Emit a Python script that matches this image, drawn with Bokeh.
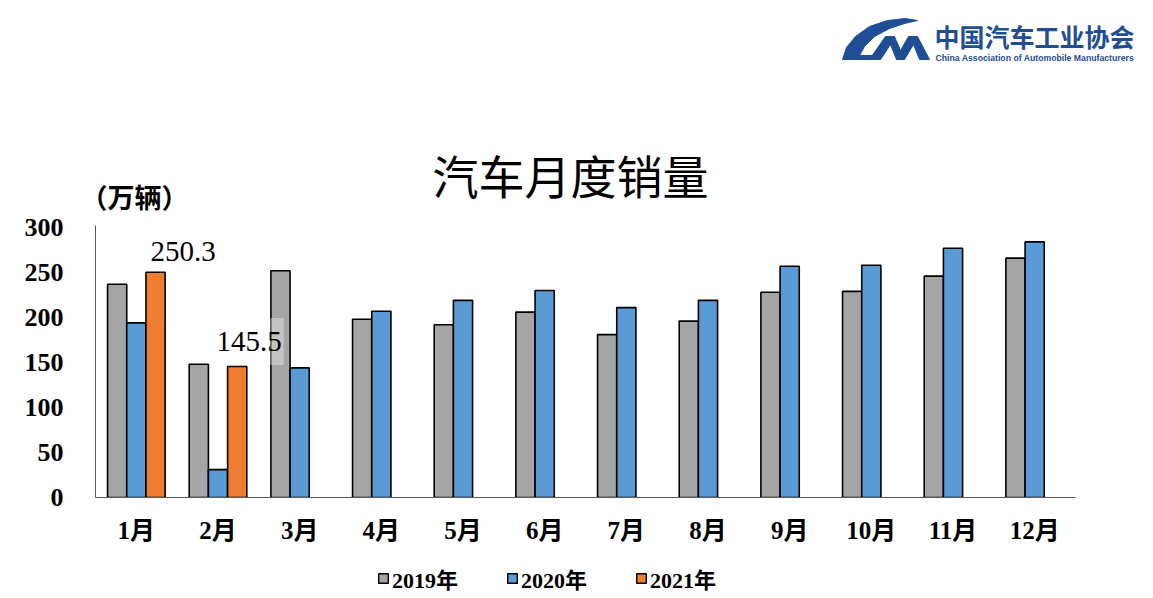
import numpy as np
from bokeh.plotting import figure
from bokeh.models import Range1d, FixedTicker, Label, Legend, LegendItem
from bokeh.layouts import column
from bokeh.embed import file_html
from bokeh.resources import INLINE

# ---- data (万辆) ----
months = ["1月", "2月", "3月", "4月", "5月", "6月", "7月", "8月", "9月", "10月", "11月", "12月"]
sales_2019 = [237, 148, 252, 198, 192, 206, 181, 196, 228, 229, 246, 266]
sales_2020 = [194, 31, 144, 207, 219, 230, 211, 219, 257, 258, 277, 284]
months_2021 = ["1月", "2月"]
sales_2021 = [250.3, 145.5]
y_ticks = [0, 50, 100, 150, 200, 250, 300]
series_names = ["2019年", "2020年", "2021年"]

C19, C20, C21 = "#A5A5A5", "#5B9BD5", "#ED7D31"
MIX = "'Liberation Serif', 'Noto Sans CJK SC'"
CJK = "'Noto Sans CJK SC'"
LOGO = "#1F4E96"

W = 1153
H_MAIN, H_LEG = 555, 43
FL, FB = 95, 497            # page x of frame left, page y of value 0
PX_X = 980 / len(months)    # pixels per category
PX_Y = 0.9                  # pixels per 万辆

centers = np.arange(len(months)) + 0.5
pos = {m: c for m, c in zip(months, centers)}
off, bw = 0.235, 0.235

p = figure(width=W, height=H_MAIN, output_backend="svg", toolbar_location=None,
           x_range=Range1d(0, (W - FL) / PX_X), y_range=Range1d(0, FB / PX_Y),
           min_border_left=FL, min_border_right=0, min_border_top=0, min_border_bottom=H_MAIN - FB)
p.outline_line_color = None
p.grid.grid_line_color = None

p.vbar(x=centers - off, top=sales_2019, width=bw, fill_color=C19, line_color="black", line_width=1.6)
p.vbar(x=centers, top=sales_2020, width=bw, fill_color=C20, line_color="black", line_width=1.6)
p.vbar(x=[pos[m] + off for m in months_2021], top=sales_2021, width=bw,
       fill_color=C21, line_color="black", line_width=1.6)

# y axis
p.yaxis.ticker = FixedTicker(ticks=y_ticks)
p.yaxis.bounds = (0, 302.2)
p.yaxis.major_tick_line_color = None
p.yaxis.minor_tick_line_color = None
p.yaxis.axis_line_color = "#595959"
p.yaxis.major_label_text_font = MIX
p.yaxis.major_label_text_font_size = "26px"
p.yaxis.major_label_text_font_style = "bold"
p.yaxis.major_label_text_color = "black"
p.yaxis.major_label_standoff = 26

# x axis
p.xaxis.ticker = FixedTicker(ticks=list(centers))
p.xaxis.major_label_overrides = {float(c): m for c, m in zip(centers, months)}
p.xaxis.bounds = (0, len(months))
p.xaxis.major_tick_line_color = None
p.xaxis.minor_tick_line_color = None
p.xaxis.axis_line_color = "#595959"
p.xaxis.major_label_text_font = MIX
p.xaxis.major_label_text_font_size = "25px"
p.xaxis.major_label_text_font_style = "bold"
p.xaxis.major_label_text_color = "black"
p.xaxis.major_label_standoff = 13

def lab(px, py, text, **kw):
    p.add_layout(Label(x=px - FL, y=FB - py, x_units="screen", y_units="screen", text=text, **kw))

# value labels
lab(150, 251, f"{sales_2021[0]}", text_font=MIX, text_font_size="29px", text_baseline="middle",
    text_align="left", text_color="black", background_fill_color="white", background_fill_alpha=0.35)
lab(214, 341, f"{sales_2021[1]}", text_font=MIX, text_font_size="29px", text_baseline="middle",
    text_align="left", text_color="black", background_fill_color="white", background_fill_alpha=0.35,
    padding=(2, 14))

# title and unit
lab(570, 173, "汽车月度销量", text_font=CJK, text_font_size="46px", text_align="center",
    text_baseline="middle", text_color="black")
lab(134, 196, "（万辆）", text_font=CJK, text_font_size="27px", text_font_style="bold",
    text_align="center", text_baseline="middle", text_color="black")

# logo (decorative shapes, positioned on the page)
c_pts = [(842, 59), (877, 59), (877, 55), (859, 55), (864, 46), (874, 36), (889, 28),
         (904, 23), (917, 20), (905, 18), (887, 20), (869, 26), (855, 36), (846, 47)]
m_pts = [(869, 59), (880, 59), (890, 44), (896, 59), (904, 59), (913, 44), (919, 59),
         (929, 59), (917, 36), (908, 36), (900, 50), (894, 36), (885, 36)]
to_x = lambda a: (a - FL) / PX_X
to_y = lambda b: (FB - b) / PX_Y
p.patches(xs=[[to_x(a) for a, b in c_pts], [to_x(a) for a, b in m_pts]],
          ys=[[to_y(b) for a, b in c_pts], [to_y(b) for a, b in m_pts]],
          fill_color=LOGO, line_color=LOGO)
lab(934, 35, "中国汽车工业协会", text_font=CJK, text_font_size="25px", text_font_style="bold",
    text_align="left", text_baseline="middle", text_color=LOGO)
lab(935, 57, "China Association of Automobile Manufacturers", text_font="'Liberation Sans'",
    text_font_size="8.7px", text_font_style="bold", text_align="left", text_baseline="middle",
    text_color=LOGO)

# ---------- legend strip ----------
lg = figure(width=W, height=H_LEG, output_backend="svg", toolbar_location=None,
            x_range=Range1d(0, 1), y_range=Range1d(0, 1), x_axis_type=None, y_axis_type=None,
            min_border_left=FL, min_border_right=0, min_border_top=0, min_border_bottom=0)
lg.outline_line_color = None
lg.grid.grid_line_color = None
# legend proxies: zero-size bars (nothing drawn), only their styles feed the legend swatches
proxy = dict(x=[0.5], bottom=[0.5], top=[0.5])
d19 = lg.vbar(x="x", bottom="bottom", top="top", width=0.0, source=dict(proxy),
              fill_color=C19, line_color="black", line_width=1.4)
d20 = lg.vbar(x="x", bottom="bottom", top="top", width=0.0, source=dict(proxy),
              fill_color=C20, line_color="black", line_width=1.4)
d21 = lg.vbar(x="x", bottom="bottom", top="top", width=0.0, source=dict(proxy),
              fill_color=C21, line_color="black", line_width=1.4)
legend = Legend(items=[LegendItem(label=series_names[0], renderers=[d19]),
                       LegendItem(label=series_names[1], renderers=[d20]),
                       LegendItem(label=series_names[2], renderers=[d21])],
                orientation="horizontal", location=(377 - FL, 4),
                glyph_width=12, glyph_height=12, label_standoff=3, spacing=48,
                padding=0, margin=0, border_line_color=None, background_fill_alpha=0,
                label_text_font=MIX, label_text_font_size="22px", label_text_font_style="bold",
                label_text_color="black")
lg.add_layout(legend, "center")

layout = column(p, lg, spacing=0)
open("out.html", "w").write(file_html(layout, INLINE))
